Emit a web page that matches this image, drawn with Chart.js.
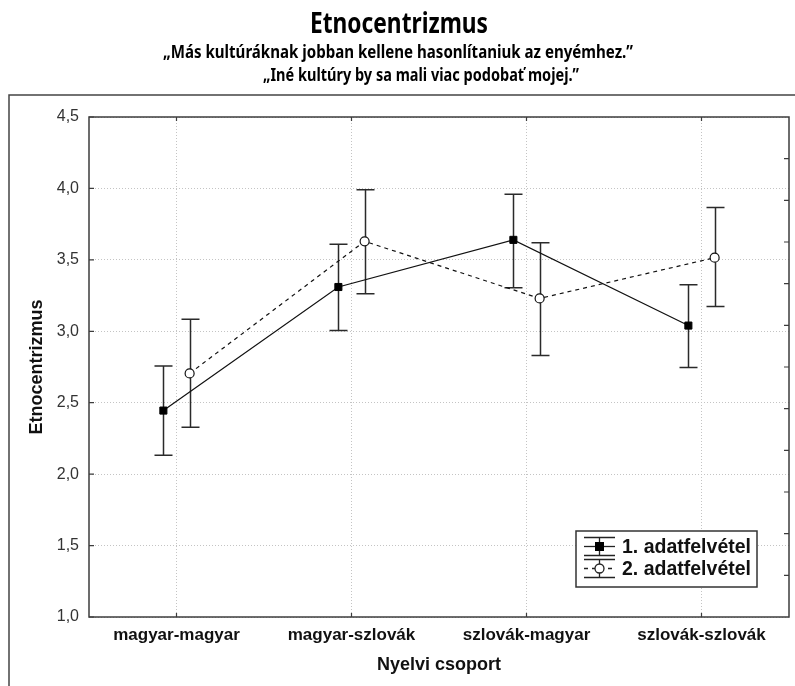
<!DOCTYPE html>
<html>
<head>
<meta charset="utf-8">
<script src="https://cdn.jsdelivr.net/npm/chart.js@4/dist/chart.umd.min.js"></script>
<style>
  html, body { margin: 0; padding: 0; background: #fff; }
  canvas { display: block; }
</style>
</head>
<body>
<canvas id="canvas" width="795" height="686"></canvas>
<script>
// csoportok es a ket adatfelvetel atlagai, 95%-os hibahatarokkal
var categories = ['magyar-magyar', 'magyar-szlovák', 'szlovák-magyar', 'szlovák-szlovák'];
var seriesNames = ['1. adatfelvétel', '2. adatfelvétel'];

var mean1  = [2.445, 3.31, 3.64, 3.04];
var upper1 = [2.757, 3.61, 3.96, 3.325];
var lower1 = [2.133, 3.005, 3.305, 2.747];

var mean2  = [2.705, 3.63, 3.23, 3.515];
var upper2 = [3.085, 3.99, 3.62, 3.867];
var lower2 = [2.328, 3.262, 2.83, 3.173];

var yTicks = [1.0, 1.5, 2.0, 2.5, 3.0, 3.5, 4.0, 4.5];

var shift = 0.075; // a ket sorozat oldalirányú eltolása
var axisColor = '#3c3c3c';
var headFont = '"Noto Sans", "DejaVu Sans Condensed", Arial, sans-serif';

function points(means, dx) {
    return means.map(function(v, i) { return {x: i + dx, y: v}; });
}

var errorBars = {
    id: 'errorBars',
    beforeDatasetsDraw: function(chart) {
        var ctx = chart.ctx, ys = chart.scales.y;
        ctx.save();
        ctx.strokeStyle = '#2a2a2a';
        ctx.lineWidth = 1.5;
        chart.data.datasets.forEach(function(ds, di) {
            var meta = chart.getDatasetMeta(di);
            meta.data.forEach(function(pt, i) {
                var x = Math.round(pt.x) + 0.5;
                var yt = ys.getPixelForValue(ds.errUpper[i]);
                var yb = ys.getPixelForValue(ds.errLower[i]);
                ctx.beginPath();
                ctx.moveTo(x, yt); ctx.lineTo(x, yb);
                ctx.moveTo(x - 9, yt); ctx.lineTo(x + 9, yt);
                ctx.moveTo(x - 9, yb); ctx.lineTo(x + 9, yb);
                ctx.stroke();
            });
        });
        ctx.restore();
    }
};

var decor = {
    id: 'decor',
    afterDraw: function(chart) {
        var ctx = chart.ctx, a = chart.chartArea;
        var xs = chart.scales.x, ys = chart.scales.y;
        ctx.save();

        // kulso keret
        ctx.strokeStyle = '#444';
        ctx.lineWidth = 1.5;
        ctx.strokeRect(9, 95, 820, 640);

        // cimek (keskeny betuvel)
        ctx.fillStyle = '#000';
        ctx.textAlign = 'center';
        ctx.textBaseline = 'alphabetic';
        ctx.font = 'bold 29px ' + headFont;
        ctx.fillText('Etnocentrizmus', 399, 33, 178);
        ctx.font = 'bold 17px ' + headFont;
        ctx.fillText('\u201EMás kultúráknak jobban kellene hasonlítaniuk az enyémhez.\u201D', 398, 58, 470);
        ctx.fillText('\u201EIné kultúry by sa mali viac podobať mojej.\u201D', 421, 81, 316);

        // diagram kerete
        ctx.strokeStyle = axisColor;
        ctx.lineWidth = 1.5;
        ctx.strokeRect(a.left, a.top, a.right - a.left, a.bottom - a.top);

        // osztasok befele
        ctx.lineWidth = 1.2;
        ctx.beginPath();
        yTicks.forEach(function(v) {
            var y = ys.getPixelForValue(v);
            ctx.moveTo(a.left, y); ctx.lineTo(a.left + 5, y);
        });
        var n = 12;
        for (var k = 1; k < n; k++) {
            var y = a.bottom - (a.bottom - a.top) * k / n;
            ctx.moveTo(a.right, y); ctx.lineTo(a.right - 5, y);
        }
        categories.forEach(function(c, i) {
            var x = xs.getPixelForValue(i);
            ctx.moveTo(x, a.bottom); ctx.lineTo(x, a.bottom - 4);
            ctx.moveTo(x, a.top); ctx.lineTo(x, a.top + 4);
        });
        ctx.stroke();

        // tengelycimek
        ctx.fillStyle = '#111';
        ctx.font = 'bold 18px Arial, "Liberation Sans", sans-serif';
        ctx.textAlign = 'center';
        ctx.textBaseline = 'middle';
        ctx.fillText('Nyelvi csoport', (a.left + a.right) / 2, 665);
        ctx.save();
        ctx.translate(37, (a.top + a.bottom) / 2);
        ctx.rotate(-Math.PI / 2);
        ctx.fillText('Etnocentrizmus', 0, 0);
        ctx.restore();

        // jelmagyarazat
        var lx = 576, ly = 531, lw = 181, lh = 56;
        ctx.fillStyle = '#fff';
        ctx.fillRect(lx, ly, lw, lh);
        ctx.strokeStyle = '#333';
        ctx.lineWidth = 1.5;
        ctx.strokeRect(lx, ly, lw, lh);
        var rows = [546.5, 568.5];
        rows.forEach(function(ry, r) {
            var ds = chart.data.datasets[r];
            var sx0 = 584, sx1 = 615, cx = 599.5;
            ctx.strokeStyle = '#222';
            ctx.lineWidth = 1.3;
            ctx.setLineDash([]);
            ctx.beginPath();
            ctx.moveTo(sx0, ry - 9); ctx.lineTo(sx1, ry - 9);
            ctx.moveTo(sx0, ry + 9); ctx.lineTo(sx1, ry + 9);
            ctx.moveTo(cx, ry - 9); ctx.lineTo(cx, ry + 9);
            ctx.stroke();
            ctx.setLineDash(ds.borderDash || []);
            ctx.beginPath();
            ctx.moveTo(sx0, ry); ctx.lineTo(sx1, ry);
            ctx.stroke();
            ctx.setLineDash([]);
            if (ds.pointStyle === 'rect') {
                ctx.fillStyle = '#000';
                ctx.fillRect(cx - 4.5, ry - 4.5, 9, 9);
            } else {
                ctx.fillStyle = '#fff';
                ctx.beginPath();
                ctx.arc(cx, ry, 4.5, 0, Math.PI * 2);
                ctx.fill();
                ctx.stroke();
            }
            ctx.fillStyle = '#111';
            ctx.font = 'bold 19.5px Arial, "Liberation Sans", sans-serif';
            ctx.textAlign = 'left';
            ctx.fillText(seriesNames[r], 622, ry + 1);
        });
        ctx.restore();
    }
};

var ctx = document.getElementById('canvas').getContext('2d');
var myChart = new Chart(ctx, {
    type: 'line',
    data: {
        datasets: [{
            label: seriesNames[0],
            data: points(mean1, -shift),
            errUpper: upper1,
            errLower: lower1,
            borderColor: '#111',
            borderWidth: 1.2,
            pointStyle: 'rect',
            pointRadius: 5,
            pointBackgroundColor: '#000',
            pointBorderColor: '#000',
            pointBorderWidth: 1,
            tension: 0
        }, {
            label: seriesNames[1],
            data: points(mean2, shift),
            errUpper: upper2,
            errLower: lower2,
            borderColor: '#111',
            borderWidth: 1.2,
            borderDash: [4, 4],
            pointStyle: 'circle',
            pointRadius: 4.5,
            pointBackgroundColor: '#fff',
            pointBorderColor: '#111',
            pointBorderWidth: 1.2,
            tension: 0
        }]
    },
    options: {
        responsive: false,
        animation: false,
        devicePixelRatio: 1,
        layout: { padding: { top: 117, left: 0, right: 5, bottom: 0 } },
        plugins: {
            legend: { display: false },
            title: { display: false },
            tooltip: { enabled: false }
        },
        scales: {
            x: {
                type: 'linear',
                min: -0.5,
                max: 3.5,
                afterBuildTicks: function(scale) {
                    scale.ticks = categories.map(function(c, i) { return {value: i}; });
                },
                afterFit: function(scale) { scale.height = 69; },
                ticks: {
                    autoSkip: false,
                    maxRotation: 0,
                    padding: 8,
                    color: '#111',
                    font: { family: 'Arial, "Liberation Sans", sans-serif', size: 17, weight: 'bold' },
                    callback: function(v) { return categories[v]; }
                },
                grid: { color: '#c4c4c4', drawTicks: false },
                border: { display: false, dash: [1, 2] }
            },
            y: {
                min: 1,
                max: 4.5,
                afterBuildTicks: function(scale) {
                    scale.ticks = yTicks.map(function(v) { return {value: v}; });
                },
                afterFit: function(scale) { scale.width = 89; },
                ticks: {
                    padding: 10,
                    color: '#333',
                    font: { family: 'Arial, "Liberation Sans", sans-serif', size: 16 },
                    callback: function(v) { return v.toFixed(1).replace('.', ','); }
                },
                grid: { color: '#c4c4c4', drawTicks: false },
                border: { display: false, dash: [1, 2] }
            }
        }
    },
    plugins: [errorBars, decor]
});
</script>
</body>
</html>
